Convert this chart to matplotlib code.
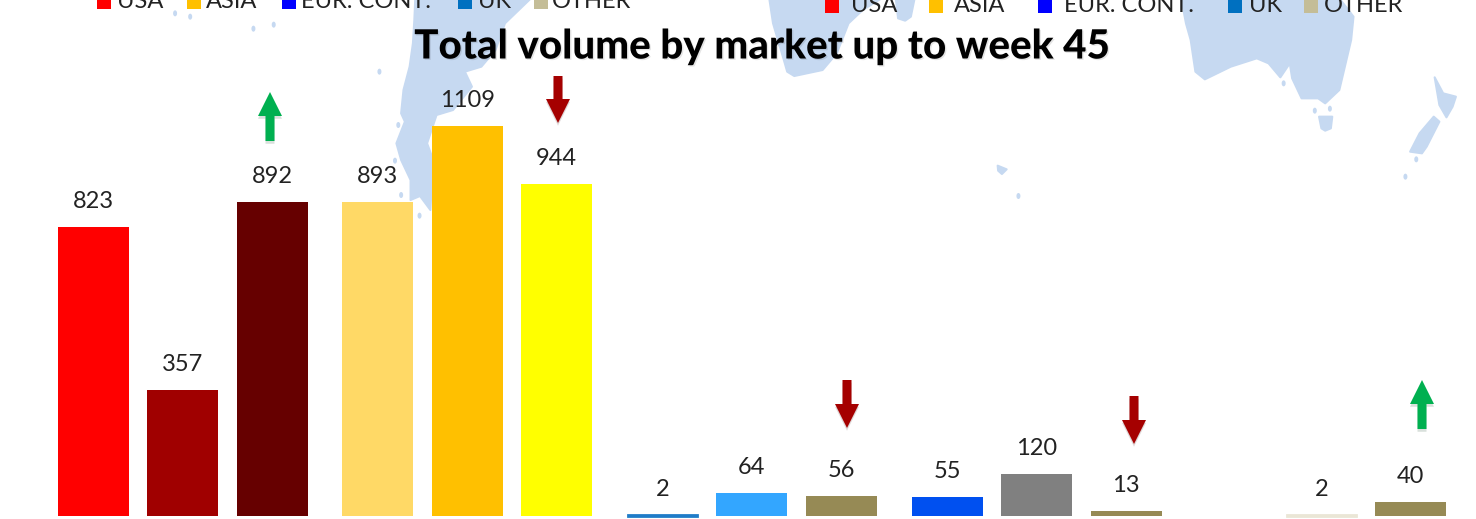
import matplotlib
matplotlib.use("Agg")
import matplotlib.pyplot as plt
import matplotlib.patheffects as pe
from matplotlib.patches import Polygon, Ellipse, Rectangle

plt.rcParams["font.family"] = ["Lato", "DejaVu Sans"]

W, H = 1476, 519
MAP_COLOR = "#C6D9F1"

# one row per bar, left to right. None = no bar in that slot
values = [823, 357, 892, 893, 1109, 944, 2, 64, 56, 55, 120, 13, None, 2, 40]
bar_colors = ["#FF0000", "#A00000", "#660000",
              "#FFD966", "#FFC000", "#FFFF00",
              "#1F7CC8", "#33A6FF", "#968A55",
              "#0050F0", "#808080", "#968A55",
              "#FFFFFF", "#EAE6D6", "#968A55"]
legend_names = ["USA", "ASIA", "EUR. CONT.", "UK", "OTHER"]
legend_colors = ["#FF0000", "#FFC000", "#0000FF", "#0070C0", "#C4BD97"]
title = "Total volume by market up to week 45"

# which bars got a trend arrow, and in which direction
trend_up = [2, 14]
trend_down = [5, 8, 11]

# layout, in pixels of the picture
bar_step = 89.5
group_step = 284.7
first_bar = 93
bar_width = 71
baseline = 516
px_per_unit = 0.3517


def bar_x(i):
    return first_bar + (i // 3) * group_step + (i % 3) * bar_step


def zoom1(points):
    return [(x / 2.119, y / 3) for x, y in points]


def zoom2(points):
    return [(740 + x / 2.119, y / 3) for x, y in points]


fig = plt.figure(figsize=(W / 100, H / 100), dpi=100)

# background axes in pixel coordinates: map, legends, arrows, title
back = fig.add_axes([0, 0, 1, 1])
back.set_xlim(0, W)
back.set_ylim(H, 0)
back.axis("off")

land = [
    zoom1([(880, -5), (878, 60), (875, 130), (868, 200), (855, 270), (850, 340), (858, 365), (840, 430),
           (850, 480), (870, 540), (870, 600), (890, 588), (912, 630), (918, 480), (905, 430),
           (925, 345), (960, 330), (1000, 260), (985, 215), (1020, 200), (1050, 150), (1070, 70), (1125, -5)]),
    zoom2([(62, -5), (70, 70), (95, 190), (100, 215), (115, 228), (175, 210), (205, 160),
           (230, 70), (260, 30), (300, -5)]),
    zoom2([(330, -5), (335, 55), (350, 62), (362, 50), (370, -5)]),
    zoom2([(935, -5), (945, 70), (955, 120), (965, 215), (985, 238), (1040, 200), (1095, 175), (1120, 190),
           (1145, 232), (1165, 190), (1170, 235), (1190, 295), (1225, 295), (1240, 310), (1270, 270),
           (1295, 120), (1300, 50), (1270, -5)]),
    zoom2([(1227, 350), (1255, 350), (1252, 385), (1240, 392), (1232, 385)]),
    zoom2([(1472, 232), (1490, 280), (1517, 290), (1510, 320), (1497, 352), (1482, 315)]),
    zoom2([(1470, 350), (1482, 365), (1455, 440), (1445, 460), (1420, 455), (1440, 400)]),
    zoom2([(546, 497), (565, 508), (555, 522), (547, 512)]),
]
for shape in land:
    back.add_patch(Polygon(shape, closed=True, fc=MAP_COLOR, ec=MAP_COLOR, lw=1.5,
                           joinstyle="round", zorder=1))

islands = zoom1([(371, 40), (403, 50), (537, 86), (580, 74), (804, 215), (844, 375), (837, 482),
                 (889, 647), (850, 585)]) + \
    zoom2([(1152, 250), (1218, 332), (1250, 326), (1433, 478), (1410, 530), (590, 588)])
for x, y in islands:
    back.add_patch(Ellipse((x, y), 4, 6, fc=MAP_COLOR, ec="none", zorder=1))

# the two legends are cut off by the top edge
legends = [
    ([97, 187, 282, 458, 534], [117, 206, 301, 478, 552], 9, 2),
    ([825, 929, 1038, 1228, 1304], [851, 954, 1064, 1249, 1324], 13, 6),
]
for swatches, labels, bottom, text_y in legends:
    for sx, tx, name, color in zip(swatches, labels, legend_names, legend_colors):
        back.add_patch(Rectangle((sx, bottom - 14), 14, 14, fc=color, ec="none", zorder=3))
        back.text(tx, text_y, name, fontsize=17, color="#222222",
                  va="center", ha="left", zorder=3)

back.text(761, 47, title, fontsize=29, fontweight="black", color="black",
          ha="center", va="center", zorder=4,
          path_effects=[pe.withSimplePatchShadow(offset=(1, -1), alpha=0.1)])

# y of the arrow tail and tip, per bar
arrow_span = {2: (141, 92), 14: (429, 380), 5: (76, 123), 8: (380, 428), 11: (396, 444)}
for i in trend_up + trend_down:
    y0, y1 = arrow_span[i]
    color = "#00B050" if i in trend_up else "#A50000"
    x = {2: 270, 14: 1422, 5: 558, 8: 847, 11: 1134}[i]
    back.arrow(x, y0, 0, y1 - y0, width=9, head_width=24, head_length=24,
               length_includes_head=True, fc=color, ec="none", zorder=5,
               path_effects=[pe.SimplePatchShadow(offset=(0, -2), alpha=0.15), pe.Normal()])

# bars on top, on a real value scale
ax = fig.add_axes([0, 0, 1, 1], facecolor="none")
ax.set_xlim(0, W)
ax.set_ylim((baseline - H) * 1 / px_per_unit, baseline / px_per_unit)
ax.axis("off")

for i, (v, c) in enumerate(zip(values, bar_colors)):
    if v is None:
        continue
    x = bar_x(i)
    # very small bars still show as a thin line in the original
    lw = 2 if v < 5 else 0
    ax.bar(x, v, width=bar_width - lw, color=c, edgecolor=c, linewidth=lw)
    ax.text(x, v + 25.5 / px_per_unit, str(v), fontsize=17, color="#222222",
            ha="center", va="center")

fig.savefig("out.png", dpi=100)
